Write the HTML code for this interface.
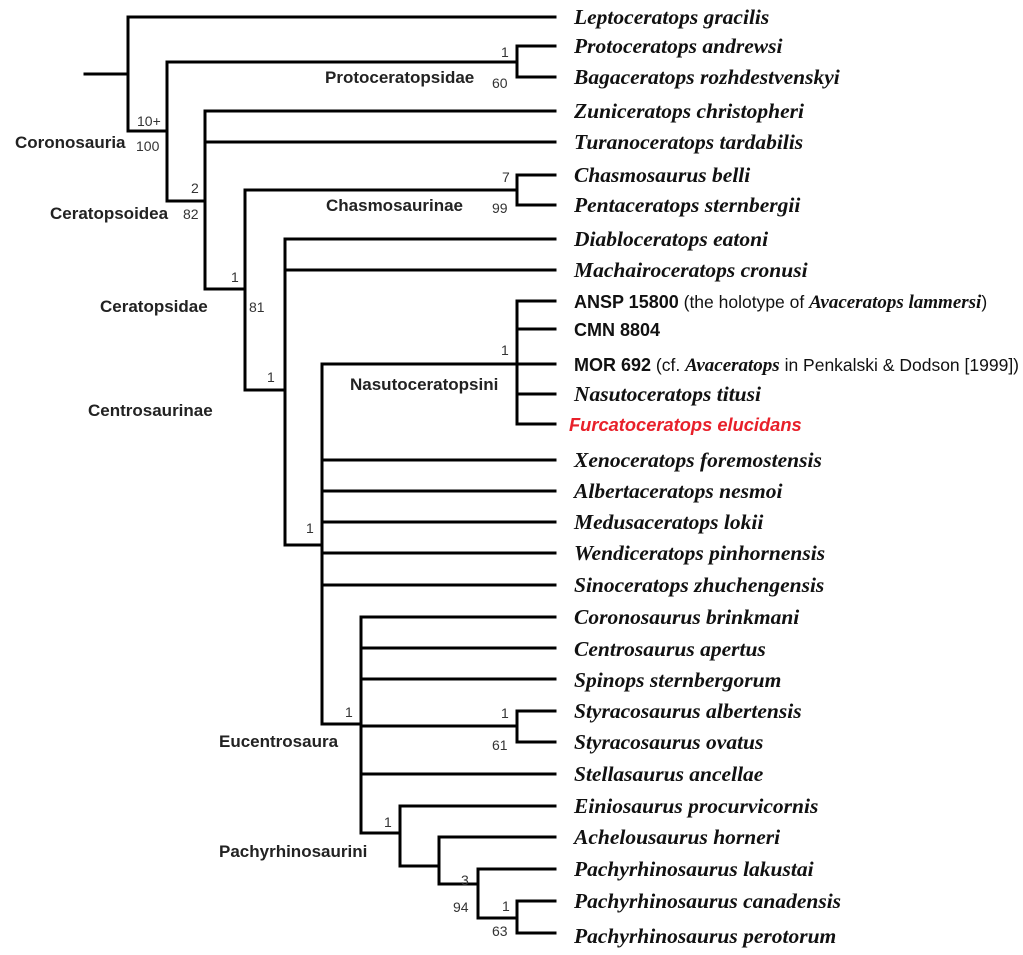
<!DOCTYPE html>
<html><head><meta charset="utf-8"><style>body{margin:0;background:#fff}svg{display:block}</style></head><body>
<svg width="1023" height="955" xmlns="http://www.w3.org/2000/svg">
<g stroke="#000" stroke-width="3" fill="none" stroke-linecap="square">
<path d="M85 74H128M128 17V131M128 17H555M128 131H167M167 62V201M167 62H517M517 46V77M517 46H555M517 77H555"/>
<path d="M167 201H205M205 111V289M205 111H555M205 142H555M205 289H245M245 190V390M245 190H517M517 175V205M517 175H555M517 205H555"/>
<path d="M245 390H285M285 239V545M285 239H555M285 270H555M285 545H322M322 364V724M322 364H517M517 301V424M517 301H555M517 329H555M517 364H555M517 394H555M517 424H555"/>
<path d="M322 460H555M322 491H555M322 522H555M322 553H555M322 585H555M322 724H361M361 617V833M361 617H555M361 648H555M361 679H555M361 726H517M517 711V742M517 711H555M517 742H555M361 774H555"/>
<path d="M361 833H400M400 806V866M400 806H555M400 866H439M439 837V884M439 837H555M439 884H478M478 869V918M478 869H555M478 918H517M517 901V933M517 901H555M517 933H555"/>
</g>
<g font-family="Liberation Serif, serif" font-style="italic" font-weight="bold" font-size="21.5" fill="#111">
<text x="574" y="24">Leptoceratops gracilis</text>
<text x="574" y="53">Protoceratops andrewsi</text>
<text x="574" y="84">Bagaceratops rozhdestvenskyi</text>
<text x="574" y="118">Zuniceratops christopheri</text>
<text x="574" y="149">Turanoceratops tardabilis</text>
<text x="574" y="182">Chasmosaurus belli</text>
<text x="574" y="212">Pentaceratops sternbergii</text>
<text x="574" y="246">Diabloceratops eatoni</text>
<text x="574" y="277">Machairoceratops cronusi</text>
<text x="574" y="401">Nasutoceratops titusi</text>
<text x="574" y="467">Xenoceratops foremostensis</text>
<text x="574" y="498">Albertaceratops nesmoi</text>
<text x="574" y="529">Medusaceratops lokii</text>
<text x="574" y="560">Wendiceratops pinhornensis</text>
<text x="574" y="592">Sinoceratops zhuchengensis</text>
<text x="574" y="624">Coronosaurus brinkmani</text>
<text x="574" y="656">Centrosaurus apertus</text>
<text x="574" y="687">Spinops sternbergorum</text>
<text x="574" y="718">Styracosaurus albertensis</text>
<text x="574" y="749">Styracosaurus ovatus</text>
<text x="574" y="781">Stellasaurus ancellae</text>
<text x="574" y="813">Einiosaurus procurvicornis</text>
<text x="574" y="844">Achelousaurus horneri</text>
<text x="574" y="876">Pachyrhinosaurus lakustai</text>
<text x="574" y="908">Pachyrhinosaurus canadensis</text>
<text x="574" y="943">Pachyrhinosaurus perotorum</text>
</g>
<text x="569" y="431" font-family="Liberation Sans, sans-serif" font-style="italic" font-weight="bold" font-size="18.3" fill="#e8202a">Furcatoceratops elucidans</text>
<g font-family="Liberation Sans, sans-serif" font-size="17.5" fill="#111">
<text x="574" y="308"><tspan font-weight="bold" font-size="18">ANSP 15800</tspan> (the holotype of <tspan font-family="Liberation Serif, serif" font-style="italic" font-weight="bold" font-size="19">Avaceratops lammersi</tspan>)</text>
<text x="574" y="336" font-weight="bold" font-size="18">CMN 8804</text>
<text x="574" y="371"><tspan font-weight="bold" font-size="18">MOR 692</tspan> (cf. <tspan font-family="Liberation Serif, serif" font-style="italic" font-weight="bold" font-size="19">Avaceratops</tspan> in Penkalski &amp; Dodson [1999])</text>
</g>
<g font-family="Liberation Sans, sans-serif" font-weight="bold" font-size="17" fill="#222">
<text x="325" y="83">Protoceratopsidae</text>
<text x="15" y="148">Coronosauria</text>
<text x="50" y="219">Ceratopsoidea</text>
<text x="326" y="211">Chasmosaurinae</text>
<text x="100" y="312">Ceratopsidae</text>
<text x="88" y="416">Centrosaurinae</text>
<text x="350" y="390">Nasutoceratopsini</text>
<text x="219" y="747">Eucentrosaura</text>
<text x="219" y="857">Pachyrhinosaurini</text>
</g>
<g font-family="Liberation Sans, sans-serif" font-size="14" fill="#333">
<text x="501" y="57">1</text><text x="492" y="88">60</text>
<text x="137" y="126">10+</text><text x="136" y="151">100</text>
<text x="191" y="193">2</text><text x="183" y="219">82</text>
<text x="502" y="182">7</text><text x="492" y="213">99</text>
<text x="231" y="282">1</text><text x="249" y="312">81</text>
<text x="267" y="382">1</text>
<text x="501" y="355">1</text>
<text x="306" y="533">1</text>
<text x="345" y="717">1</text>
<text x="501" y="718">1</text><text x="492" y="750">61</text>
<text x="384" y="827">1</text>
<text x="461" y="885">3</text><text x="453" y="912">94</text>
<text x="502" y="911">1</text><text x="492" y="936">63</text>
</g>
</svg>
</body></html>
